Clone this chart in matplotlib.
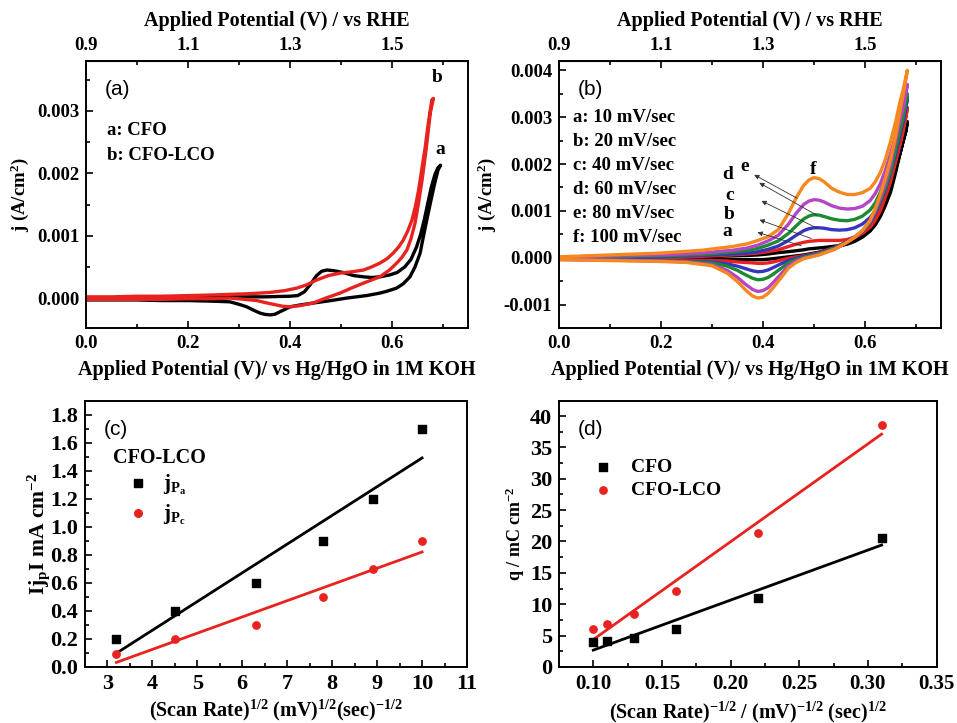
import matplotlib
matplotlib.use("Agg")
import matplotlib.pyplot as plt
import numpy as np
from matplotlib.ticker import MultipleLocator, FixedLocator, FormatStrFormatter
from matplotlib.lines import Line2D

plt.rcParams['font.family'] = 'Liberation Serif'
plt.rcParams['font.weight'] = 'bold'
plt.rcParams['axes.labelweight'] = 'bold'
plt.rcParams['axes.unicode_minus'] = False
plt.rcParams['mathtext.fontset'] = 'custom'
plt.rcParams['mathtext.rm'] = 'Liberation Serif:bold'
plt.rcParams['mathtext.it'] = 'Liberation Serif:bold'
plt.rcParams['mathtext.bf'] = 'Liberation Serif:bold'
plt.rcParams['mathtext.default'] = 'rm'

RED = '#e8231f'
cv_colors = ['black', RED, '#3535c0', '#1c8a30', '#b445c4', '#f7881f']

# ---- (a) CV of CFO and CFO-LCO ----
cfo_fwd_v = [0.0, 0.05, 0.1, 0.15, 0.2, 0.25, 0.3, 0.35, 0.4, 0.415, 0.428, 0.44, 0.452, 0.462, 0.472,
             0.485, 0.504, 0.525, 0.545, 0.56, 0.576, 0.595, 0.61, 0.625, 0.637, 0.648, 0.656, 0.663,
             0.67, 0.677, 0.684, 0.69, 0.695]
cfo_fwd_j = [-0.00001, 0.0, 0.0, 0.00001, 0.00001, 0.00002, 0.00002, 0.00002, 0.00003, 0.00004, 0.0001,
             0.00022, 0.00036, 0.00043, 0.00045, 0.00044, 0.00041, 0.00036, 0.00034, 0.00033, 0.00034,
             0.00037, 0.00041, 0.0005, 0.00062, 0.00082, 0.00102, 0.00125, 0.00152, 0.00178, 0.00198,
             0.00209, 0.00213]
cfo_rev_v = [0.695, 0.69, 0.683, 0.675, 0.668, 0.661, 0.655, 0.645, 0.635, 0.622, 0.609, 0.59, 0.576,
             0.55, 0.511, 0.48, 0.445, 0.42, 0.4, 0.39, 0.38, 0.37, 0.361, 0.35, 0.341, 0.33, 0.315, 0.3,
             0.282, 0.25, 0.2, 0.15, 0.1, 0.05, 0.0]
cfo_rev_j = [0.00213, 0.00205, 0.00182, 0.00152, 0.00125, 0.00097, 0.00072, 0.0005, 0.00034, 0.00023,
             0.00016, 0.00011, 0.00008, 0.00004, 0.0, -0.00004, -0.00008, -0.00011, -0.00014, -0.00018,
             -0.00022, -0.00026, -0.00027, -0.00026, -0.00024, -0.0002, -0.00014, -0.0001, -0.00006,
             -0.00005, -0.00004, -0.00004, -0.00003, -0.00003, -0.00003]
lco_fwd_v = [0.0, 0.05, 0.1, 0.15, 0.2, 0.25, 0.282, 0.32, 0.36, 0.39, 0.413, 0.432, 0.452, 0.475, 0.498,
             0.52, 0.544, 0.56, 0.576, 0.59, 0.602, 0.613, 0.622, 0.631, 0.639, 0.646, 0.652, 0.658, 0.665,
             0.671, 0.678, 0.681]
lco_fwd_j = [0.00002, 0.00002, 0.00003, 0.00003, 0.00004, 0.00005, 0.00006, 0.00007, 0.00009, 0.00012,
             0.00016, 0.00021, 0.00029, 0.00036, 0.0004, 0.00042, 0.00045, 0.0005, 0.00056, 0.00063,
             0.00072, 0.00082, 0.00093, 0.00108, 0.00125, 0.00148, 0.00173, 0.00205, 0.00242, 0.0028,
             0.00318, 0.0032]
lco_rev_v = [0.681, 0.675, 0.667, 0.659, 0.652, 0.645, 0.637, 0.629, 0.619, 0.609, 0.595, 0.576, 0.56,
             0.544, 0.52, 0.498, 0.47, 0.445, 0.42, 0.4, 0.385, 0.367, 0.35, 0.335, 0.31, 0.282, 0.25,
             0.2, 0.15, 0.1, 0.05, 0.0]
lco_rev_j = [0.0032, 0.00297, 0.0024, 0.0019, 0.00153, 0.0012, 0.00095, 0.00077, 0.00065, 0.00056,
             0.00045, 0.00034, 0.00029, 0.00024, 0.00016, 0.00008, 0.0, -0.00008, -0.00012, -0.00014,
             -0.00013, -0.0001, -0.00007, -0.00004, -0.00002, 0.0, -0.00001, -0.00001, -0.00002,
             -0.00002, -0.00002, -0.00002]

# ---- (b) CV of CFO-LCO at several scan rates (a..f = 10..100 mV/sec) ----
scan_labels = ['a: 10 mV/sec', 'b: 20 mV/sec', 'c: 40 mV/sec', 'd: 60 mV/sec', 'e: 80 mV/sec', 'f: 100 mV/sec']
fwd_v = [0.0, 0.1, 0.2, 0.28, 0.34, 0.37, 0.39, 0.41, 0.43, 0.45, 0.465, 0.48, 0.49, 0.50, 0.51, 0.52,
         0.535, 0.55, 0.565, 0.58, 0.595, 0.61, 0.62, 0.63, 0.64, 0.65, 0.66, 0.668, 0.675, 0.68, 0.683]
rev_v = [0.683, 0.68, 0.675, 0.668, 0.66, 0.65, 0.64, 0.63, 0.62, 0.61, 0.595, 0.58, 0.565, 0.54, 0.51,
         0.48, 0.465, 0.45, 0.435, 0.42, 0.41, 0.40, 0.39, 0.38, 0.365, 0.35, 0.33, 0.3, 0.25, 0.2, 0.1, 0.0]
fwd_j = [
    [0.0, 0.00001, 0.00001, 0.00002, 0.00004, 0.00005, 0.00006, 0.00008, 0.00011, 0.00013, 0.00015,
     0.00017, 0.00019, 0.0002, 0.00021, 0.00022, 0.00024, 0.00026, 0.00029, 0.00035, 0.00044, 0.00057,
     0.0007, 0.00088, 0.00112, 0.0014, 0.00182, 0.0022, 0.0025, 0.0027, 0.0029],
    [0.0, 0.00001, 0.00002, 0.00003, 0.00006, 0.00008, 0.0001, 0.00013, 0.00017, 0.00024, 0.00029,
     0.00033, 0.00035, 0.00036, 0.00037, 0.00037, 0.00037, 0.00037, 0.00039, 0.00044, 0.00052, 0.00065,
     0.0008, 0.001, 0.0013, 0.00162, 0.00205, 0.0024, 0.0028, 0.003, 0.0032],
    [0.0, 0.00001, 0.00003, 0.00005, 0.00008, 0.0001, 0.00013, 0.00018, 0.00025, 0.00037, 0.00048,
     0.00058, 0.00062, 0.00064, 0.00064, 0.00063, 0.0006, 0.00059, 0.0006, 0.00064, 0.00072, 0.00086,
     0.001, 0.00122, 0.00152, 0.00188, 0.0023, 0.0027, 0.003, 0.0032, 0.0034],
    [0.0, 0.00002, 0.00004, 0.00007, 0.00012, 0.00016, 0.0002, 0.00027, 0.00036, 0.00052, 0.00068,
     0.00083, 0.00089, 0.00092, 0.00091, 0.00088, 0.00083, 0.0008, 0.00079, 0.00082, 0.00089, 0.00102,
     0.00117, 0.0014, 0.0017, 0.00205, 0.00245, 0.0028, 0.0031, 0.00335, 0.0035],
    [0.00001, 0.00004, 0.00006, 0.0001, 0.00016, 0.00021, 0.00027, 0.00036, 0.00048, 0.00072, 0.00095,
     0.00114, 0.00121, 0.00124, 0.00123, 0.00119, 0.00111, 0.00106, 0.00104, 0.00105, 0.0011, 0.00122,
     0.00137, 0.00158, 0.00187, 0.00222, 0.00262, 0.003, 0.0033, 0.00355, 0.0037],
    [0.00002, 0.00006, 0.0001, 0.00016, 0.00024, 0.0003, 0.00037, 0.00045, 0.0006, 0.00095, 0.00128,
     0.00155, 0.00166, 0.00171, 0.00169, 0.00162, 0.00148, 0.0014, 0.00135, 0.00135, 0.00139, 0.00148,
     0.00162, 0.00182, 0.0021, 0.00248, 0.0029, 0.0033, 0.0036, 0.00385, 0.004],
]
rev_j = [
    [0.0029, 0.0027, 0.0025, 0.0022, 0.0019, 0.0015, 0.0012, 0.00098, 0.0008, 0.00065, 0.0005, 0.0004,
     0.00031, 0.0002, 0.00012, 0.00006, 0.00004, 0.00002, 0.0, -0.00002, -0.00003, -0.00004, -0.00004,
     -0.00004, -0.00004, -0.00004, -0.00004, -0.00004, -0.00003, -0.00003, -0.00002, -0.00002],
    [0.0032, 0.003, 0.0027, 0.0024, 0.0021, 0.0017, 0.0014, 0.00114, 0.00091, 0.00072, 0.00055, 0.00043,
     0.00034, 0.00022, 0.00011, 0.00004, 0.00002, -0.00001, -0.00005, -0.00009, -0.00011, -0.00012,
     -0.00012, -0.00011, -0.0001, -0.00009, -0.00007, -0.00006, -0.00005, -0.00004, -0.00003, -0.00002],
    [0.0034, 0.0032, 0.0029, 0.0026, 0.0022, 0.0018, 0.00145, 0.00118, 0.00094, 0.00074, 0.00056, 0.00044,
     0.00034, 0.00021, 0.0001, 0.00003, -0.00001, -0.00006, -0.00013, -0.00021, -0.00026, -0.00029,
     -0.0003, -0.00028, -0.00023, -0.00018, -0.00013, -0.00009, -0.00007, -0.00005, -0.00004, -0.00003],
    [0.0035, 0.0033, 0.003, 0.0027, 0.0023, 0.00185, 0.0015, 0.00122, 0.00097, 0.00076, 0.00057, 0.00044,
     0.00034, 0.0002, 0.00009, 0.00001, -0.00004, -0.00011, -0.00023, -0.00035, -0.00042, -0.00046,
     -0.00047, -0.00044, -0.00036, -0.00027, -0.00018, -0.00011, -0.00008, -0.00006, -0.00005, -0.00003],
    [0.0037, 0.0035, 0.0032, 0.0029, 0.0025, 0.002, 0.0016, 0.00128, 0.001, 0.00078, 0.00058, 0.00044,
     0.00033, 0.00018, 0.00007, -0.00001, -0.00007, -0.00017, -0.00035, -0.00053, -0.00064, -0.0007,
     -0.00072, -0.00068, -0.00056, -0.00042, -0.00027, -0.00015, -0.00009, -0.00007, -0.00005, -0.00004],
    [0.004, 0.0038, 0.0035, 0.0031, 0.0026, 0.0021, 0.0017, 0.00135, 0.00105, 0.0008, 0.00058, 0.00044,
     0.00033, 0.00018, 0.00006, -0.00002, -0.0001, -0.00022, -0.00043, -0.00064, -0.00076, -0.00084,
     -0.00086, -0.00082, -0.00068, -0.00051, -0.00033, -0.00017, -0.0001, -0.00008, -0.00006, -0.00004],
]

# ---- (c) peak current vs sqrt(scan rate) ----
sqrt_rate = [3.2, 4.5, 6.3, 7.8, 8.9, 10.0]
jpa = [0.2, 0.4, 0.6, 0.9, 1.2, 1.7]
jpc = [0.09, 0.2, 0.3, 0.5, 0.7, 0.9]

# ---- (d) charge vs inverse sqrt(scan rate) ----
inv_sqrt_rate = [0.10, 0.11, 0.13, 0.16, 0.22, 0.31]
q_cfo = [4.0, 4.2, 4.6, 6.0, 11.0, 20.6]
q_lco = [6.0, 6.8, 8.4, 12.1, 21.4, 38.6]


def style(ax, xmaj, xmin, ymaj, ymin, xfmt, yfmt, size=13.5):
    ax.xaxis.set_major_locator(MultipleLocator(xmaj))
    ax.xaxis.set_minor_locator(MultipleLocator(xmin))
    ax.yaxis.set_major_locator(MultipleLocator(ymaj))
    ax.yaxis.set_minor_locator(MultipleLocator(ymin))
    ax.xaxis.set_major_formatter(FormatStrFormatter(xfmt))
    ax.yaxis.set_major_formatter(FormatStrFormatter(yfmt))
    ax.tick_params(which='both', direction='in', top=False, right=False, labelsize=size, width=1.2)
    ax.tick_params(which='major', length=5, pad=5)
    ax.tick_params(which='minor', length=3)
    for s in ax.spines.values():
        s.set_linewidth(1.4)


def rhe_axis(ax):
    sec = ax.secondary_xaxis('top', functions=(lambda v: v + 0.9, lambda r: r - 0.9))
    sec.xaxis.set_major_locator(FixedLocator([0.9, 1.1, 1.3, 1.5]))
    sec.xaxis.set_minor_locator(FixedLocator([1.0, 1.2, 1.4, 1.6]))
    sec.xaxis.set_major_formatter(FormatStrFormatter('%.1f'))
    sec.tick_params(which='both', direction='in', labelsize=13.5, width=1.2, pad=5)
    sec.tick_params(which='major', length=5)
    sec.tick_params(which='minor', length=3)
    sec.set_xlabel('Applied Potential (V) / vs RHE', fontsize=14.5, labelpad=8)


fig = plt.figure(figsize=(9.57, 7.23), dpi=100)
ax_a = fig.add_axes([0.0899, 0.5463, 0.3992, 0.3693])
ax_b = fig.add_axes([0.5841, 0.5463, 0.3992, 0.3693])
ax_c = fig.add_axes([0.0888, 0.0775, 0.3992, 0.3679])
ax_d = fig.add_axes([0.5841, 0.0775, 0.3945, 0.3679])

xlab_hg = 'Applied Potential (V)/ vs Hg/HgO in 1M KOH'

# (a)
ax_a.plot(cfo_fwd_v + cfo_rev_v, cfo_fwd_j + cfo_rev_j, color='black', lw=2.4)
ax_a.plot(lco_fwd_v + lco_rev_v, lco_fwd_j + lco_rev_j, color=RED, lw=2.4)
ax_a.set_xlim(0, 0.749)
ax_a.set_ylim(-0.00048, 0.0038)
style(ax_a, 0.2, 0.1, 0.001, 0.0005, '%.1f', '%.3f')
ax_a.set_xlabel(xlab_hg, fontsize=14.5, labelpad=6)
ax_a.set_ylabel('j (A/cm$^2$)', fontsize=13.5)
rhe_axis(ax_a)
ax_a.text(0.05, 0.93, '(a)', transform=ax_a.transAxes, family='Liberation Sans', weight='normal',
          fontsize=15, va='top')
ax_a.text(0.055, 0.74, 'a: CFO', transform=ax_a.transAxes, fontsize=13.5, va='center')
ax_a.text(0.055, 0.645, 'b: CFO-LCO', transform=ax_a.transAxes, fontsize=13.5, va='center')
ax_a.text(lco_fwd_v[-1] + 0.007, 0.0034, 'b', fontsize=14, ha='center', va='bottom')
ax_a.text(cfo_fwd_v[-1] + 0.0, 0.00225, 'a', fontsize=14, ha='center', va='bottom')

# (b)
for k in range(6):
    ax_b.plot(fwd_v + rev_v, fwd_j[k] + rev_j[k], color=cv_colors[k], lw=2.4)
ax_b.set_xlim(0, 0.749)
ax_b.set_ylim(-0.0015, 0.0042)
style(ax_b, 0.2, 0.1, 0.001, 0.0005, '%.1f', '%.3f')
ax_b.set_xlabel(xlab_hg, fontsize=14.5, labelpad=6)
ax_b.set_ylabel('j (A/cm$^2$)', fontsize=13.5)
rhe_axis(ax_b)
ax_b.text(0.05, 0.93, '(b)', transform=ax_b.transAxes, family='Liberation Sans', weight='normal',
          fontsize=15, va='top')
for k, lab in enumerate(scan_labels):
    ax_b.text(0.037, 0.79 - k * 0.09, lab, transform=ax_b.transAxes, fontsize=13.5, va='center')
arrow_heads = [(0.384, 0.00056), (0.388, 0.00083), (0.392, 0.00124), (0.388, 0.00163), (0.378, 0.0018)]
arrow_tails = [(0.48, 0.00024), (0.5, 0.00039), (0.512, 0.0006), (0.51, 0.00088), (0.472, 0.00124)]
letter_pos = [(0.33, 0.00056), (0.334, 0.00092), (0.334, 0.00133), (0.33, 0.00177), (0.364, 0.00194)]
for k in range(5):
    ax_b.annotate('', xy=arrow_heads[k], xytext=arrow_tails[k],
                  arrowprops=dict(arrowstyle='-|>', lw=0.6, color='#333333', mutation_scale=7))
    ax_b.text(letter_pos[k][0], letter_pos[k][1], 'abcde'[k], fontsize=14, ha='center', va='center')
ax_b.text(0.498, 0.00188, 'f', fontsize=14, ha='center', va='center')

# (c)
ax_c.scatter(sqrt_rate, jpa, marker='s', s=28, color='black', zorder=3)
ax_c.scatter(sqrt_rate, jpc, marker='o', s=28, color=RED, zorder=3)
for ydat, col in [(jpa, 'black'), (jpc, RED)]:
    p = np.polyfit(sqrt_rate, ydat, 1)
    xs = np.array([min(sqrt_rate), max(sqrt_rate)])
    ax_c.plot(xs, np.polyval(p, xs), color=col, lw=2)
ax_c.set_xlim(2.5, 11)
ax_c.set_ylim(0, 1.9)
style(ax_c, 1, 0.5, 0.2, 0.1, '%d', '%.1f', size=16)
ax_c.set_xlabel('(Scan Rate)$^{1/2}$ (mV)$^{1/2}$(sec)$^{-1/2}$', fontsize=14.5, labelpad=3)
ax_c.set_ylabel('I$j_p$I mA cm$^{-2}$', fontsize=15.5, labelpad=-1)
ax_c.text(0.05, 0.93, '(c)', transform=ax_c.transAxes, family='Liberation Sans', weight='normal',
          fontsize=15, va='top')
ax_c.text(0.073, 0.785, 'CFO-LCO', transform=ax_c.transAxes, fontsize=14.5, va='center')
h_c = [Line2D([], [], ls='none', marker='s', ms=5.5, color='black'),
       Line2D([], [], ls='none', marker='o', ms=5.5, color=RED)]
ax_c.legend(h_c, ['$j_{P_a}$', '$j_{P_c}$'], loc='upper left', bbox_to_anchor=(0.035, 0.8), frameon=False,
            fontsize=15, labelspacing=0.3, handletextpad=0.2)

# (d)
ax_d.scatter(inv_sqrt_rate, q_cfo, marker='s', s=28, color='black', zorder=3, label='CFO')
ax_d.scatter(inv_sqrt_rate, q_lco, marker='o', s=28, color=RED, zorder=3, label='CFO-LCO')
for ydat, col in [(q_cfo, 'black'), (q_lco, RED)]:
    p = np.polyfit(inv_sqrt_rate, ydat, 1)
    xs = np.array([min(inv_sqrt_rate), max(inv_sqrt_rate)])
    ax_d.plot(xs, np.polyval(p, xs), color=col, lw=2)
ax_d.set_xlim(0.075, 0.35)
ax_d.set_ylim(0, 42.4)
style(ax_d, 0.05, 0.025, 5, 2.5, '%.2f', '%d', size=16)
ax_d.tick_params(axis='x', labelsize=15)
ax_d.set_xlabel('(Scan Rate)$^{-1/2}$ / (mV)$^{-1/2}$ (sec)$^{1/2}$', fontsize=14.5, labelpad=4)
ax_d.set_ylabel('q / mC cm$^{-2}$', fontsize=13, labelpad=2)
ax_d.text(0.05, 0.93, '(d)', transform=ax_d.transAxes, family='Liberation Sans', weight='normal',
          fontsize=15, va='top')
ax_d.legend(loc='upper left', bbox_to_anchor=(0.02, 0.85), frameon=False, fontsize=14,
            labelspacing=0.3, handletextpad=0.4, scatterpoints=1)

fig.savefig('out.png', dpi=100)
